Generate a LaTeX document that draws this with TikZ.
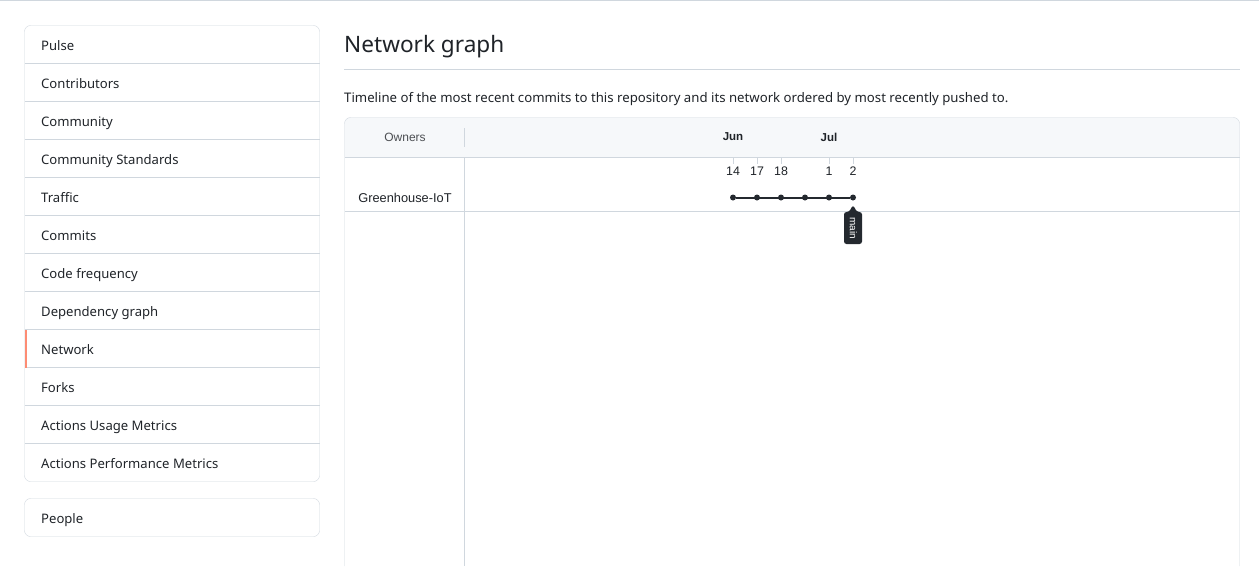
\documentclass[tikz,border=0pt]{standalone}
\usepackage{fontspec}
\setmainfont{Noto Sans}
\newfontfamily\graphfont{Liberation Sans}
\definecolor{edge}{HTML}{D0D7DE}
\definecolor{ink}{HTML}{1F2328}
\definecolor{headfill}{HTML}{F6F8FA}
\definecolor{accent}{HTML}{FD8C73}
\definecolor{tagdark}{HTML}{24292F}
\tikzset{
  item/.style={anchor=base west,inner sep=0pt,text=ink,font=\fontsize{13.1}{16}\selectfont},
  small/.style={inner sep=0pt,text=ink,font=\graphfont\fontsize{12}{14}\selectfont},
  commit/.style={circle,fill=tagdark,inner sep=0pt,minimum size=6pt}
}
\begin{document}
\begin{tikzpicture}[x=1pt,y=-1pt]
  \useasboundingbox (0,0) rectangle (1259,566);
  \draw[edge] (0,0.5) -- (1259,0.5);
  % sidebar
  \draw[edge,rounded corners=6pt] (24.5,25.5) rectangle (319.5,481.5);
  \foreach \y in {1,...,11} \draw[edge] (24.5,25.5+38*\y) -- (319.5,25.5+38*\y);
  \fill[accent] (24.5,329.5) rectangle (27,367.5);
  \foreach \lab [count=\i from 0] in {Pulse,Contributors,Community,Community Standards,Traffic,Commits,Code frequency,Dependency graph,Network,Forks,Actions Usage Metrics,Actions Performance Metrics}
    \node[item] (s\i) at (41,50+38*\i) {\lab};
  \draw[edge,rounded corners=6pt] (24.5,498.5) rectangle (319.5,536.5);
  \node[item] (people) at (41,523) {People};
  % heading
  \node[item,font=\fontsize{22.6}{26}\selectfont] (title) at (344,52) {Network graph};
  \draw[edge] (344,69.5) -- (1239.5,69.5);
  \node[item,font=\fontsize{13.2}{16}\selectfont] (intro) at (344,102) {Timeline of the most recent commits to this repository and its network ordered by most recently pushed to.};
  % graph box
  \fill[headfill] (344.5,157.5) [rounded corners=6pt] -- (344.5,117.5) -- (1239.5,117.5) [sharp corners] -- (1239.5,157.5) -- cycle;
  \draw[edge,rounded corners=6pt] (344.5,566) -- (344.5,117.5) -- (1239.5,117.5) -- (1239.5,566);
  \draw[edge] (344.5,157.5) -- (1239.5,157.5); \draw[edge] (344.5,211.5) -- (1239.5,211.5);
  \draw[edge] (464.5,157.5) -- (464.5,566); \draw[edge] (464.5,128) -- (464.5,147);
  \node[small,text=ink!80] (owners) at (405,137) {Owners};
  \node[small,font=\graphfont\fontsize{12.8}{14}\selectfont] (repo) at (405,198) {Greenhouse-IoT};
  \node[small,font=\graphfont\bfseries\fontsize{11.5}{14}\selectfont] (jun) at (733,137) {Jun};
  \node[small,font=\graphfont\bfseries\fontsize{11.5}{14}\selectfont] (jul) at (829,137) {Jul};
  \foreach \x/\d in {733/14,757/17,781/18,829/1,853/2} {
    \draw[edge] (\x,158) -- (\x,164);
    \node[small,font=\graphfont\fontsize{12.4}{14}\selectfont] (d\d) at (\x,171.5) {\d};
  }
  \foreach \x [count=\i] in {733,757,781,805,829,853}
    \node[commit] (c\i) at (\x,197.5) {};
  \draw[tagdark,line width=2pt] (c1) -- (c6);
  \fill[tagdark,rounded corners=2.5pt] (844,212) -- (849,212) -- (853,205) -- (857,212) -- (862,212) -- (862,244) -- (844,244) -- cycle;
  \node[inner sep=0pt,text=white,rotate=-90,font=\graphfont\fontsize{10}{11}\selectfont] (main) at (853.5,228.5) {main};
\end{tikzpicture}
\end{document}
